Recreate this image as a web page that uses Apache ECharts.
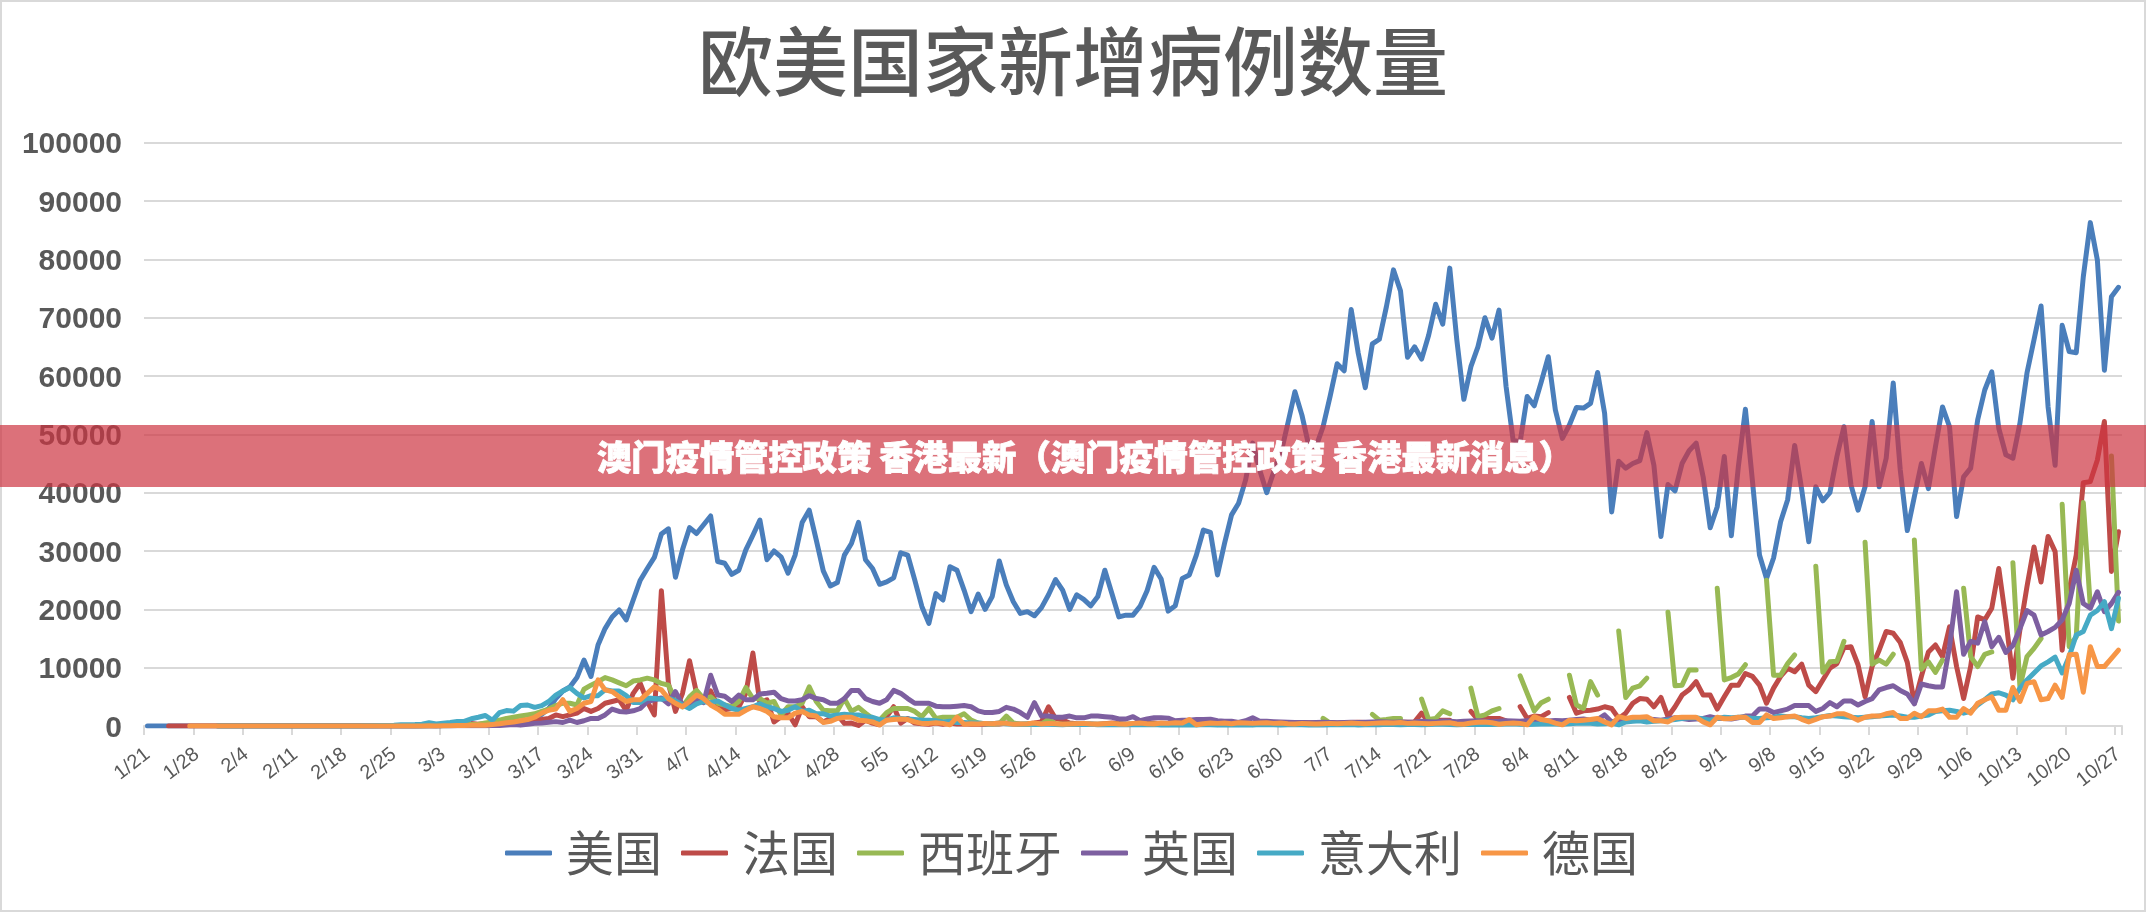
<!DOCTYPE html>
<html lang="zh">
<head>
<meta charset="utf-8">
<title>欧美国家新增病例数量</title>
<script src="https://cdn.jsdelivr.net/npm/echarts@6/dist/echarts.min.js"></script>
<style>
html,body{margin:0;padding:0;background:#fff;}
#chart{width:2146px;height:912px;}
</style>
</head>
<body>
<div id="chart"></div>
<script>
const titleText = '欧美国家新增病例数量';
const bannerText = '澳门疫情管控政策 香港最新（澳门疫情管控政策 香港最新消息）';
const seriesNames = ['美国','法国','西班牙','英国','意大利','德国'];
const seriesColors = ['#4a7ebb','#be4b48','#98b954','#7d5fa0','#46aac5','#f79646'];
const weekLabels = ['1/21','1/28','2/4','2/11','2/18','2/25','3/3','3/10','3/17','3/24','3/31','4/7','4/14','4/21','4/28','5/5','5/12','5/19','5/26','6/2','6/9','6/16','6/23','6/30','7/7','7/14','7/21','7/28','8/4','8/11','8/18','8/25','9/1','9/8','9/15','9/22','9/29','10/6','10/13','10/20','10/27'];

const us = [
1,0,1,0,1,1,2,0,0,1,
1,0,0,1,0,0,3,0,0,0,
0,0,1,0,0,0,0,0,20,0,
0,0,0,0,6,1,4,9,3,1,
22,20,30,50,70,100,150,120,200,270,
350,450,550,700,950,1300,2000,3000,4700,6000,
6700,8300,11300,8500,13900,16700,18700,19900,18200,21600,
25000,27000,28900,32900,33800,25500,30200,34000,33000,34500,
36000,28200,27900,26000,26700,30200,32700,35300,28500,30000,
29000,26200,29300,34900,37000,31900,26600,24000,24600,29300,
31300,34900,28500,27000,24300,24700,25400,29700,29300,25000,
20500,17600,22700,21600,27300,26700,23300,19600,22600,20000,
22200,28300,24200,21300,19300,19600,18900,20300,22500,25100,
23300,20000,22500,21700,20600,22200,26700,22700,18700,19000,
19000,20500,23200,27200,25200,19700,20600,25300,25900,29300,
33600,33200,25900,31300,36200,38200,42200,48500,43900,40000,
43600,46700,51900,57300,53300,47900,47900,51300,56500,62100,
60900,71400,63900,58000,65500,66300,71900,78200,74600,63200,
65000,62900,67000,72300,68900,78500,66200,56000,61600,65000,
70000,66500,71300,58200,49000,48700,56500,54900,59000,63300,
54200,49300,51600,54600,54500,55300,60600,53600,36700,45400,
44200,45000,45500,50300,44700,32500,41400,40300,45000,47200,
48500,42700,34000,37600,46200,32600,44500,54300,42000,29300,
25300,28800,35000,38800,48100,40500,31600,41000,38600,40000,
46200,51300,41300,37000,41000,52200,41000,45900,58800,43900,
33500,39300,45000,40700,47900,54700,51300,35900,42700,44200,
52500,57600,60700,51000,46500,45900,51900,60500,66200,72000,
54700,44700,68700,64200,64000,77000,86300,79900,61000,73600,75200
];
const france = [
null,null,null,3,0,0,0,0,0,0,
0,0,0,0,0,0,0,0,0,0,
0,0,0,0,0,0,0,0,0,0,
0,0,0,0,0,2,18,20,19,43,
30,61,73,138,190,103,410,286,372,497,
600,780,790,840,920,1000,1100,1300,1900,1600,
1900,2200,3000,2500,3000,3900,4200,4500,2700,5600,
7300,4200,1900,23200,7300,2500,5600,11200,5600,4500,
6000,3500,2800,3000,3300,5600,12500,3900,4500,700,
1600,2200,200,3300,1600,1600,700,1300,1900,450,
500,100,1000,500,200,1600,3300,500,1300,500,
400,300,500,300,500,350,400,300,350,300,
400,350,500,400,300,350,500,700,3300,1300,
1000,500,400,300,350,300,400,500,450,300,
350,400,450,500,400,350,300,400,450,500,
400,350,450,500,400,550,500,450,500,600,
500,450,550,500,600,550,500,550,600,500,
550,600,650,600,550,700,650,600,700,650,
700,2200,700,1000,1000,1000,null,null,2500,1100,
1300,1300,1300,900,null,3300,1300,1700,1600,2300,
null,null,4900,2200,2600,2700,2900,3300,3000,1300,
2200,3900,4700,4600,3300,4900,1600,3300,5300,6200,
7600,5300,5300,2900,5000,7000,7000,9000,8500,7000,
3900,6500,8500,9900,9300,10600,7000,5900,7900,9900,
10700,13400,13600,10500,5000,10200,13000,16200,15900,14300,
10900,3900,8500,12700,13900,11900,17000,10200,4700,10200,
18700,18200,20200,27000,18200,8200,16500,23900,30700,24700,
32500,29900,13000,23300,29300,41700,41900,45600,52200,26500,33300
];
const spain = [
null,null,null,null,null,null,null,null,null,null,
1,0,0,0,0,0,0,0,0,1,
0,0,0,0,0,0,0,0,0,0,
0,0,0,0,2,6,7,12,14,1,
40,35,50,90,100,200,240,300,500,700,
1000,1300,1500,1700,1900,2100,2500,2900,3500,3900,
3900,3600,6300,7000,7600,8300,7900,7400,6900,7700,
7900,8200,7900,7300,7000,4500,3300,5000,6100,4700,
5000,3900,3600,3300,4200,6600,4700,4700,3900,4200,
1900,3300,3300,3900,6700,4200,2700,2600,2600,4700,
2500,3200,2200,1300,1000,2300,3000,3000,3000,2500,
1600,3000,1300,1500,1500,1500,2100,1000,500,400,
350,400,1700,500,300,350,400,350,1100,400,
300,320,280,350,300,320,280,300,340,300,
320,280,300,350,300,280,320,300,350,300,
300,350,300,320,350,300,340,320,300,350,
null,null,null,null,null,null,null,1300,500,null,
null,null,null,null,2000,1000,1100,1300,1300,null,
null,4600,1100,1300,2600,2100,null,null,6500,1600,
1900,2600,3000,null,null,8600,5600,2600,4000,4600,
null,null,8700,3600,3000,7600,5300,null,null,16300,
4900,6500,6900,8200,null,null,19500,6900,7000,9600,
9600,null,null,23600,7900,8300,8900,10500,null,null,
25000,8700,8700,10700,12200,null,null,27400,9200,11000,
11100,14500,null,null,31500,10600,11300,10600,12300,null,
null,31900,9700,11000,9200,11300,null,null,23600,11900,
10200,12300,12700,null,null,28000,6700,11900,13300,15000,
null,null,38000,13600,15300,38300,20500,null,null,46300,18000
];
const uk = [
null,null,null,null,null,null,null,null,null,null,
2,0,0,0,1,0,0,0,1,0,
0,0,0,0,0,0,0,0,0,0,
0,0,0,0,1,4,0,0,10,3,
12,12,40,50,50,50,70,60,50,80,
100,150,250,150,300,450,500,650,750,600,
1000,600,900,1300,1300,1900,2900,2500,2400,2600,
3000,4200,4500,4800,3800,5900,3600,3800,4500,4000,
8700,5300,5100,4200,5300,4500,4500,5500,5600,5800,
4700,4300,4300,4500,5200,4700,4500,3900,3900,4700,
6100,6100,4700,4200,3900,4500,6100,5600,4700,3900,
3900,3900,3400,3300,3300,3400,3500,3300,2600,2300,
2300,2500,3200,2900,2300,1500,4000,1700,1700,1500,
1500,1700,1400,1400,1700,1700,1600,1500,1200,1200,
1600,900,1200,1400,1400,1350,900,1000,1000,1100,
1100,1150,900,800,800,600,900,1400,800,800,
750,700,650,600,600,550,600,650,600,550,
600,650,600,650,700,750,700,650,700,650,
700,800,750,700,850,800,750,800,850,900,
800,750,800,900,850,800,900,950,900,850,
950,900,1000,1100,1200,1000,1100,1900,700,1000,
950,1100,1000,1200,1100,1000,1200,1400,1300,1100,
1200,1300,1600,1300,1300,1200,1400,1700,1700,2900,
2900,2300,2600,2900,3500,3500,3500,2500,3000,4000,
3300,4300,4300,3600,4200,4700,6200,6600,6900,6100,
5500,3800,7200,6900,6700,6700,13600,23000,12300,14500,
14200,17900,13600,15200,12600,13800,16700,19800,19000,15600,
16200,16900,18200,21000,26700,21000,20200,23000,19600,21000,22900
];
const italy = [
null,null,null,null,null,null,null,null,null,null,
2,0,0,0,0,0,0,1,0,0,
0,0,0,0,0,0,0,0,0,0,
10,30,60,70,90,130,200,230,240,300,
570,340,470,590,770,780,1250,1500,1800,980,
2300,2650,2550,3500,3600,3200,3500,4200,5300,6000,
6600,5600,4800,5200,5200,6200,6000,6000,5200,4050,
4050,4800,4700,4600,4800,4300,3600,3000,3800,4200,
4000,4300,3600,3000,2700,3000,3300,3800,3300,3000,
2500,2700,3300,2500,2700,2100,2100,1700,1900,2000,
1900,1900,1600,1500,1100,1000,1400,1300,1200,1100,
1000,1000,900,700,800,600,600,500,500,400,
400,500,400,300,300,350,250,300,300,250,
200,300,250,250,300,200,250,200,250,200,
200,250,200,250,180,150,200,150,200,150,
250,200,150,200,180,150,200,150,250,200,
200,150,200,250,200,150,200,180,200,250,
200,250,180,200,250,200,300,250,200,250,
250,200,250,300,300,250,200,250,300,250,
300,250,300,350,400,300,250,300,350,400,
350,300,400,450,500,450,350,400,500,200,
700,800,900,700,800,900,1000,1100,1300,1400,
1400,1200,1000,1300,1500,1400,1500,1500,1300,1300,
1400,1500,1700,1600,1600,1400,1300,1400,1600,1800,
1700,1600,1500,1400,1500,1600,1700,1800,1900,1700,
1500,1500,1700,1900,2500,2600,2700,2500,2200,2500,
3600,4500,5500,5700,5300,4500,6500,7900,9100,10300,
11000,11800,9100,11900,15600,16200,19000,19800,21300,16700,21900
];
const germany = [
null,null,null,null,null,null,1,0,2,0,
0,0,0,0,0,0,0,0,0,0,
0,0,0,0,0,0,0,0,0,0,
0,0,0,0,0,1,3,10,20,10,
60,20,30,40,100,100,130,160,130,270,
400,570,700,900,1100,1500,2200,2700,2900,4500,
2500,3000,3900,4200,7900,6200,5900,5000,4200,4500,
4500,5600,6700,6200,4700,3900,3300,4200,5300,4700,
3600,2900,2000,2000,2000,2700,3300,3000,2500,1600,
1400,1400,2200,2500,1900,1700,600,800,1300,1500,
1500,1000,900,700,200,1000,1100,1200,1100,700,
450,450,550,450,200,1500,300,400,350,450,
400,500,450,300,350,400,500,350,450,400,
300,350,400,450,350,300,400,450,350,300,
450,500,400,350,500,450,550,500,1100,200,
400,500,450,500,400,550,500,450,500,550,
450,500,400,350,450,400,350,400,450,400,
450,500,450,400,450,500,550,500,600,450,
500,450,400,450,500,550,350,300,500,650,
700,550,300,450,500,450,200,1600,1100,900,
500,200,1000,900,1000,1100,1300,700,200,1600,
1300,1500,1500,1600,900,900,700,1400,1500,1500,
1500,700,200,1500,1250,1300,1500,1500,600,600,
1900,1300,1400,1600,1700,1150,700,1150,1600,1700,
2100,2100,1600,1000,1500,1700,1700,2100,2300,1300,
1300,2200,1600,2600,2600,2900,1500,1500,3000,2200,
3900,4500,5000,2700,2700,6600,4200,7300,7600,4500,
4700,7000,4900,12200,12300,5800,13600,10200,10200,11600,13000
];

const seriesValues = [us, france, spain, uk, italy, germany];

// one category per day; only every seventh one carries a printed week label
const categories = [];
weekLabels.forEach((label, w) => {
  categories.push(label);
  if (w < weekLabels.length - 1) for (let d = 1; d < 7; d++) categories.push(label + '+' + d);
});

const CJK = '"Noto Sans CJK SC","Noto Sans",sans-serif';
const LATIN = '"Liberation Sans",Arial,sans-serif';
const GREY = '#595959';
const RULE = '#d9d9d9';

const chart = echarts.init(document.getElementById('chart'), null, {renderer:'canvas', width:2146, height:912});
chart.setOption({
  animation:false,
  backgroundColor:'#ffffff',
  title:{
    text:titleText, left:1068, top:14, textAlign:'center',
    textStyle:{fontFamily:CJK, fontSize:75, fontWeight:500, color:GREY, lineHeight:84}
  },
  legend:{
    left:505, top:829, padding:0, orient:'horizontal', itemWidth:47, itemHeight:5, itemGap:19,
    icon:'roundRect',
    data:seriesNames,
    textStyle:{fontFamily:CJK, fontSize:48, color:GREY, lineHeight:46, padding:[0,0,0,9]}
  },
  grid:{left:144, right:24, top:142.7, bottom:186, containLabel:false},
  xAxis:{
    type:'category', data:categories, boundaryGap:true,
    axisLine:{lineStyle:{color:RULE, width:2}},
    axisTick:{show:true, interval:6, length:9, lineStyle:{color:RULE, width:2}},
    axisLabel:{
      interval:6, rotate:38, margin:26, color:GREY, fontFamily:LATIN, fontSize:20,
      formatter:v => v.split('+')[0]
    },
    splitLine:{show:false}
  },
  yAxis:{
    type:'value', min:0, max:100000, interval:10000,
    axisLine:{show:false}, axisTick:{show:false},
    axisLabel:{margin:22, color:GREY, fontFamily:LATIN, fontSize:30, fontWeight:'bold',
      verticalAlign:'top', lineHeight:5, formatter:v => String(v)},
    splitLine:{lineStyle:{color:RULE, width:2}}
  },
  series:seriesNames.map((name,k)=>({
    name, type:'line', data:seriesValues[k], connectNulls:false, smooth:false,
    showSymbol:false, symbol:'none',
    itemStyle:{color:seriesColors[k]},
    lineStyle:{color:seriesColors[k], width:5, cap:'round', join:'round'},
    emphasis:{disabled:true}
  })),
  graphic:{elements:[
    {type:'rect', z:90, silent:true, shape:{x:1,y:1,width:2144,height:910},
     style:{fill:'none', stroke:RULE, lineWidth:2}},
    {type:'rect', z:100, silent:true, shape:{x:0,y:425,width:2146,height:62},
     style:{fill:'rgba(205,52,66,0.7)'}},
    {type:'text', z:101, silent:true, x:1085, y:457,
     style:{text:bannerText, fill:'#ffffff', stroke:'#ffffff', lineWidth:0.8, align:'center', verticalAlign:'middle',
            font:'900 34.3px "Noto Sans CJK SC",sans-serif'}}
  ]}
});
</script>
</body>
</html>
